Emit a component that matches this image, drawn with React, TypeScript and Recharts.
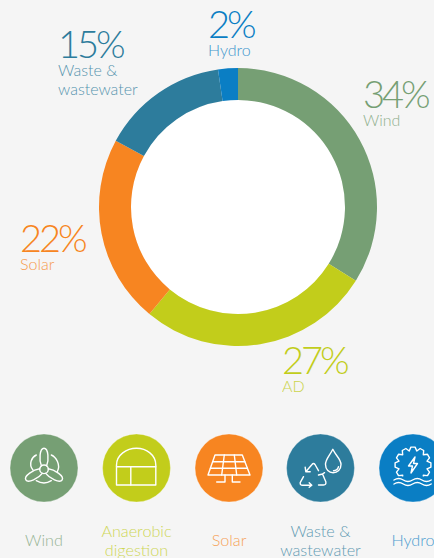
import React from 'react';
import { PieChart, Pie, Cell } from 'recharts';

const categories = ['Wind', 'AD', 'Solar', 'Waste & wastewater', 'Hydro'];
// arc sizes measured off the ring, the printed labels round them
const shares = [33.9, 27.1, 21.9, 14.8, 2.3];
const colors = ['#769f74', '#c2cd1b', '#f78521', '#2d7c9c', '#0a7ec4'];

const sliceData = categories.map((name, i) => ({ name, value: shares[i] }));

// callouts around the ring: x, baseline of the number, lines under it
const callouts = [
  { x: 363, y: 108, lines: ['Wind'] },
  { x: 282, y: 374, lines: ['AD'] },
  { x: 20, y: 252, lines: ['Solar'] },
  { x: 58, y: 58, lines: ['Waste &', 'wastewater'] },
  { x: 208, y: 38, lines: ['Hydro'] },
];

const iconCentres = [44, 136.5, 229, 320.5, 413];
const iconY = 468;
const iconLabels = [['Wind'], ['Anaerobic', 'digestion'], ['Solar'], ['Waste &', 'wastewater'], ['Hydro']];

const fontFamily = 'Lato, "Open Sans", sans-serif';

const WindIcon = () => (
  <g>
    <circle cx={0} cy={1.3} r={4.3} />
    {[0, 120, 240].map((a) => (
      <path
        key={a}
        transform={`translate(0 1.3) rotate(${a})`}
        d="M-2.6 -3.5 C-5 -9 -4.5 -21 0 -21 C4.5 -21 5 -9 2.6 -3.5"
      />
    ))}
    <path d="M-7.7 -13 C-12 -11 -16 -4 -11 2" />
    <path d="M7.3 -13 C12 -11 17 -3 13.3 3.7" />
    <path d="M-7.7 12.7 C-3 15.5 3 15.5 7.3 12.7" />
  </g>
);

const DigesterIcon = () => (
  <g>
    <path d="M-20 17 V-3 C-20 -13 -10 -19.7 0 -19.7 C10 -19.7 19.3 -13 19.3 -3 V17 Z" />
    <path d="M-20 -1.3 H19.3" />
    <path d="M-5.7 -1.3 V17" />
  </g>
);

const SolarIcon = () => (
  <g>
    <path d="M-14 -13 H13.3 L21 7 H-21 Z" />
    <path d="M-16.3 -6.3 H15.8 M-18.6 0.3 H18.4" />
    <path d="M-4.7 -13 L-7.3 7 M5.3 -13 L7.7 7" />
    <path d="M-4 7 V14 H-12.3 M3.3 7 V14 H11" />
  </g>
);

const WasteIcon = () => (
  <g>
    <path d="M12.3 -18.7 C9 -12 5 -9 5 -3.5 C5 1.5 8.5 4.7 12.6 4.7 C17 4.7 20.5 1.5 20.5 -3.5 C20.5 -9 15.5 -12 12.3 -18.7 Z" />
    <path d="M18 -1.3 C17.5 1 15.5 2.7 13 2.7" />
    <path d="M-2 2.7 L-5.5 -3.5 Q-7 -5.5 -8.5 -3.5 L-14.7 3.7 M-15.3 -0.7 L-14.7 3.7 L-10.3 3.7" />
    <path d="M-17 8.7 L-20.3 14.7 Q-20.5 17.3 -18 17.3 H-8.7 M-11.3 14.7 L-8.7 17.3 L-11.3 19.3" />
    <path d="M-2 17 H3 Q6 17 5.3 13.7 L2 6 M-2 7 L2 6 L4 4.7" />
  </g>
);

// icon outline only, 12 blunt teeth
const gearPath = () => {
  const pts: string[] = [];
  const step = Math.PI / 6;
  for (let i = 0; i < 12; i++) {
    [
      [-0.5, 14.5],
      [-0.22, 18],
      [0.22, 18],
      [0.5, 14.5],
    ].forEach(([f, r]) => {
      const a = (i + f) * step;
      pts.push(`${(Math.sin(a) * r).toFixed(1)} ${(-Math.cos(a) * r - 3).toFixed(1)}`);
    });
  }
  return 'M' + pts.join(' L') + ' Z';
};

const HydroIcon = () => (
  <g>
    <path d={gearPath()} />
    <rect x={-22} y={8.5} width={44} height={16} fill="#0a7ec4" stroke="none" />
    <path d="M2 -11 L-4.5 -2 H-0.5 L-2 5 L4.5 -4.5 H0.5 Z" />
    <path d="M-19 12 q4.7 -3 9.3 0 t9.3 0 t9.3 0 t9.3 0" />
    <path d="M-19 16 q4.7 -3 9.3 0 t9.3 0 t9.3 0 t9.3 0" />
  </g>
);

const icons = [WindIcon, DigesterIcon, SolarIcon, WasteIcon, HydroIcon];

export default function App() {
  return (
    <div
      style={{
        position: 'absolute',
        left: 0,
        top: 0,
        width: 434,
        height: 558,
        overflow: 'hidden',
        background: '#f5f5f5',
      }}
    >
      <PieChart width={434} height={400} margin={{ top: 0, right: 0, bottom: 0, left: 0 }}>
        <Pie
          data={[{ name: 'hole', value: 1 }]}
          dataKey="value"
          cx={238}
          cy={207}
          innerRadius={0}
          outerRadius={107}
          fill="#ffffff"
          stroke="none"
          isAnimationActive={false}
        />
        <Pie
          data={sliceData}
          dataKey="value"
          cx={238}
          cy={207}
          innerRadius={107}
          outerRadius={139}
          startAngle={90}
          endAngle={-270}
          stroke="none"
          isAnimationActive={false}
        >
          {sliceData.map((s, i) => (
            <Cell key={s.name} fill={colors[i]} />
          ))}
        </Pie>
      </PieChart>

      <svg
        width={434}
        height={558}
        style={{ position: 'absolute', left: 0, top: 0, fontFamily }}
      >
        {callouts.map((c, i) => (
          <g key={categories[i]} fill={colors[i]}>
            <text x={c.x} y={c.y} fontSize={38} fontWeight={300} letterSpacing={-3}>
              {Math.round(shares[i])}%
            </text>
            {c.lines.map((line, j) => (
              <text
                key={line}
                x={c.x}
                y={c.y + 18 + j * 19}
                fontSize={16}
                fontWeight={300}
                opacity={0.8}
              >
                {line}
              </text>
            ))}
          </g>
        ))}

        {iconCentres.map((x, i) => {
          const Icon = icons[i];
          return (
            <g key={x} transform={`translate(${x} ${iconY})`}>
              <circle r={34} fill={colors[i]} stroke="#ffffff" strokeOpacity={0.3} strokeWidth={1} />
              <g fill="none" stroke="#ffffff" strokeWidth={1.4} strokeLinejoin="round" strokeLinecap="round">
                <Icon />
              </g>
            </g>
          );
        })}

        {iconLabels.map((lines, i) => (
          <text
            key={lines[0]}
            textAnchor="middle"
            fontSize={16.2}
            fontWeight={300}
            fill={colors[i]}
            opacity={0.75}
          >
            {lines.map((line, j) => (
              <tspan key={line} x={iconCentres[i]} y={lines.length === 1 ? 546 : 537 + j * 18.5}>
                {line}
              </tspan>
            ))}
          </text>
        ))}
      </svg>
    </div>
  );
}
